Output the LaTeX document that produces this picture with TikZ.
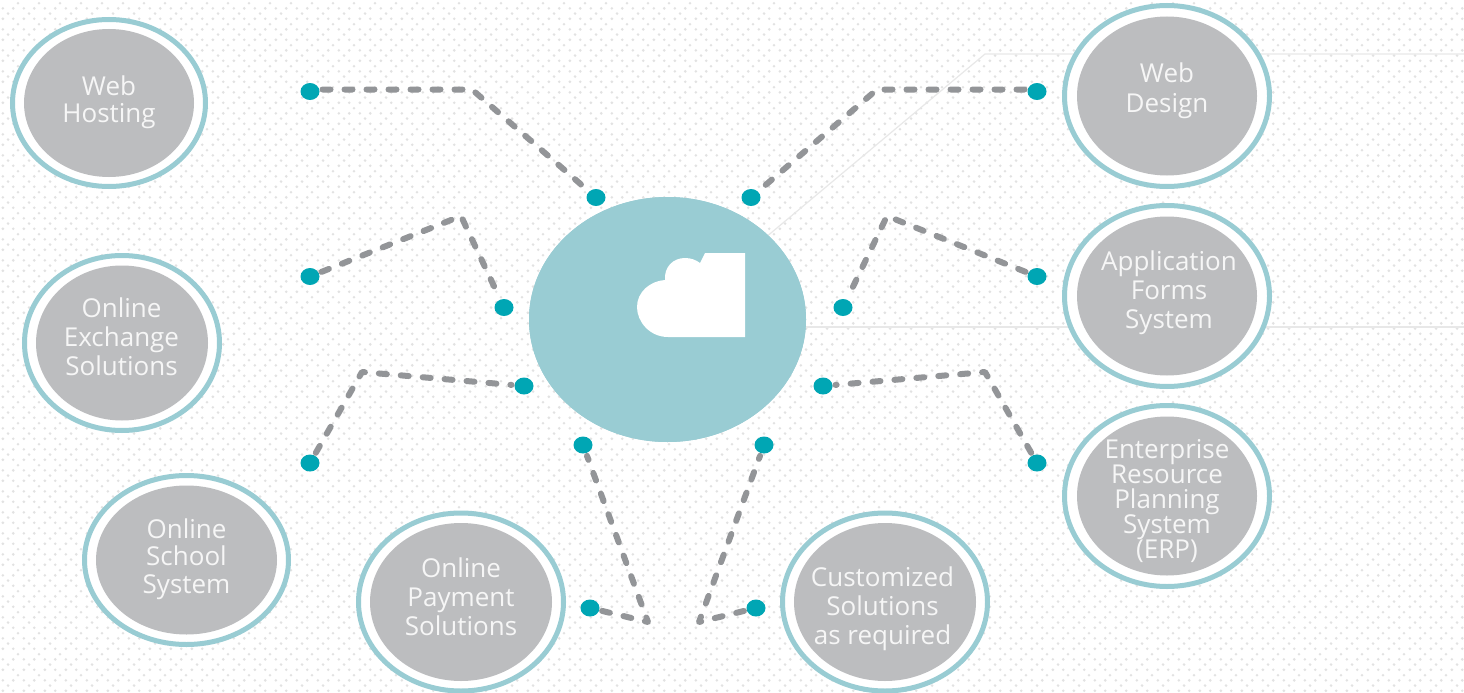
\documentclass[tikz,border=0pt]{standalone}
\usepackage{fontspec}
\setmainfont{Open Sans}
\usetikzlibrary{shapes.geometric,patterns}
\pgfdeclarepatternformonly{dotgrid}{\pgfpointorigin}{\pgfqpoint{21.33pt}{21.33pt}}{\pgfqpoint{21.33pt}{21.33pt}}{
  \pgfpathcircle{\pgfqpoint{4pt}{3.33pt}}{1.5pt}
  \pgfpathcircle{\pgfqpoint{14.67pt}{3.33pt}}{1.5pt}
  \pgfpathcircle{\pgfqpoint{4pt}{14pt}}{1.5pt}
  \pgfpathcircle{\pgfqpoint{14.67pt}{14pt}}{1.5pt}
  \pgfpathcircle{\pgfqpoint{9.33pt}{8.67pt}}{1.5pt}
  \pgfpathcircle{\pgfqpoint{19.6pt}{19.33pt}}{1.5pt}
  \pgfusepath{fill}
}
\definecolor{ringteal}{HTML}{99CCD3}
\definecolor{dotteal}{HTML}{00A6B4}
\definecolor{ovalgrey}{HTML}{BCBDBF}
\definecolor{dashgrey}{HTML}{939598}
\definecolor{bgdot}{HTML}{E2E2E2}
\definecolor{thinline}{HTML}{E8E8E8}
\definecolor{labeltxt}{HTML}{F6F6F6}
\tikzset{
  ringoval/.style={ellipse,draw=ringteal,line width=5pt,fill=white,inner sep=0pt,outer sep=0pt},
  greyoval/.style={ellipse,fill=ovalgrey,inner sep=0pt,outer sep=0pt},
  hubnode/.style={ellipse,fill=ringteal,inner sep=0pt,outer sep=0pt,minimum width=277pt,minimum height=245pt},
  tealdot/.style={ellipse,fill=dotteal,inner sep=0pt,outer sep=3pt,minimum width=19pt,minimum height=17pt},
  ovaltext/.style={align=center,text=labeltxt,inner sep=0pt,font=\fontsize{26}{29}\selectfont},
  linkline/.style={draw=dashgrey,line width=6pt,line cap=round,dash pattern=on 8pt off 14pt,line join=round},
  hairline/.style={draw=thinline,line width=1.2pt},
}
\begin{document}
\begin{tikzpicture}[x=1pt,y=-1pt]
\useasboundingbox (0,0) rectangle (1464,693);
\fill[white] (0,0) rectangle (1464,693);
\fill[pattern=dotgrid,pattern color=bgdot] (0,0) rectangle (1464,693);

% hub and cloud
\coordinate (hairA) at (985,54);
\coordinate (hairB) at (1464,54);
\coordinate (hairC) at (1464,327);
\node[hubnode] (hub) at (667.5,319.5) {};
\draw[hairline] (hub) -- (hairA) -- (hairB);
\draw[hairline] (hairC -| hub.east) -- (hairC);
\node[hubnode] at (667.5,319.5) {};
\fill[white] (745,337) -- (668,337)
  .. controls (650,337) and (637,322) .. (637,307)
  .. controls (637,292) and (650,281) .. (665,280)
  .. controls (664,267) and (673,258) .. (685,258)
  .. controls (691,258) and (696,260) .. (700,263)
  -- (705,253) -- (745,253) -- cycle;

% ovals
\foreach \n/\x/\y/\ow/\oh/\iw/\ih in {
  wh/109/103/193/167/170/148,
  ex/122/343/195/175/172/155,
  sc/186.5/560/204/169/181/149,
  pa/461/602/205/178/182/158,
  cu/885/602/205/178/182/158,
  wd/1167/96/205/181/180/159,
  af/1167/296/205/181/180/159,
  er/1167/496/205/181/180/159}{
  \node[ringoval,minimum width=\ow pt,minimum height=\oh pt] (\n ring) at (\x,\y) {};
  \node[greyoval,minimum width=\iw pt,minimum height=\ih pt] (\n) at (\x,\y) {};
}

% labels
\node[ovaltext,font=\fontsize{26}{27}\selectfont] (twh) at (109,102) {Web\\Hosting};
\node[ovaltext] (tex) at (121.5,337) {Online\\Exchange\\Solutions};
\node[ovaltext,font=\fontsize{26}{27.5}\selectfont] (tsc) at (186.5,559) {Online\\School\\System};
\node[ovaltext] (tpa) at (461,596.5) {Online\\Payment\\Solutions};
\node[ovaltext] (tcu) at (882.5,608.5) {Customized\\Solutions\\as required};
\node[ovaltext,font=\fontsize{26}{30}\selectfont] (twd) at (1167,90.5) {Web\\Design};
\node[ovaltext] (taf) at (1169,293) {Application\\Forms\\System};
\node[ovaltext,font=\fontsize{26}{25.2}\selectfont] (ter) at (1167,501) {Enterprise\\Resource\\Planning\\System\\(ERP)};

% terminals
\foreach \n/\x/\y in {
  a1/310/91.5, a2/596/197.5, b1/1037/91.5, b2/751/197.5,
  c1/310/276.5, c2/504/307.5, d1/1037/276.5, d2/843/307.5,
  e1/310/463, e2/524/386, f1/1037/463, f2/823/386,
  g1/590/608, g2/583/445, h1/756/608, h2/764/445}{
  \node[tealdot] (\n) at (\x,\y) {};
}

% bends
\coordinate (ab) at (472,89.5);
\coordinate (bb) at (877,89.5);
\coordinate (cb) at (461,216);
\coordinate (db) at (887,216);
\coordinate (eb) at (362,372);
\coordinate (fb) at (985,372);
\coordinate (gb) at (648,622);
\coordinate (hb) at (699,622);

% connectors
\draw[linkline] ([yshift=2pt]a1.east) -- (ab) -- (a2);
\draw[linkline] ([yshift=2pt]b1.west) -- (bb) -- (b2);
\draw[linkline] (c1) -- (cb) -- (c2);
\draw[linkline] (d1) -- (db) -- (d2);
\draw[linkline] (e1) -- (eb) -- (e2);
\draw[linkline] (f1) -- (fb) -- (f2);
\draw[linkline] (g1) -- (gb) -- (g2);
\draw[linkline] (h1) -- (hb) -- (h2);
\end{tikzpicture}
\end{document}
